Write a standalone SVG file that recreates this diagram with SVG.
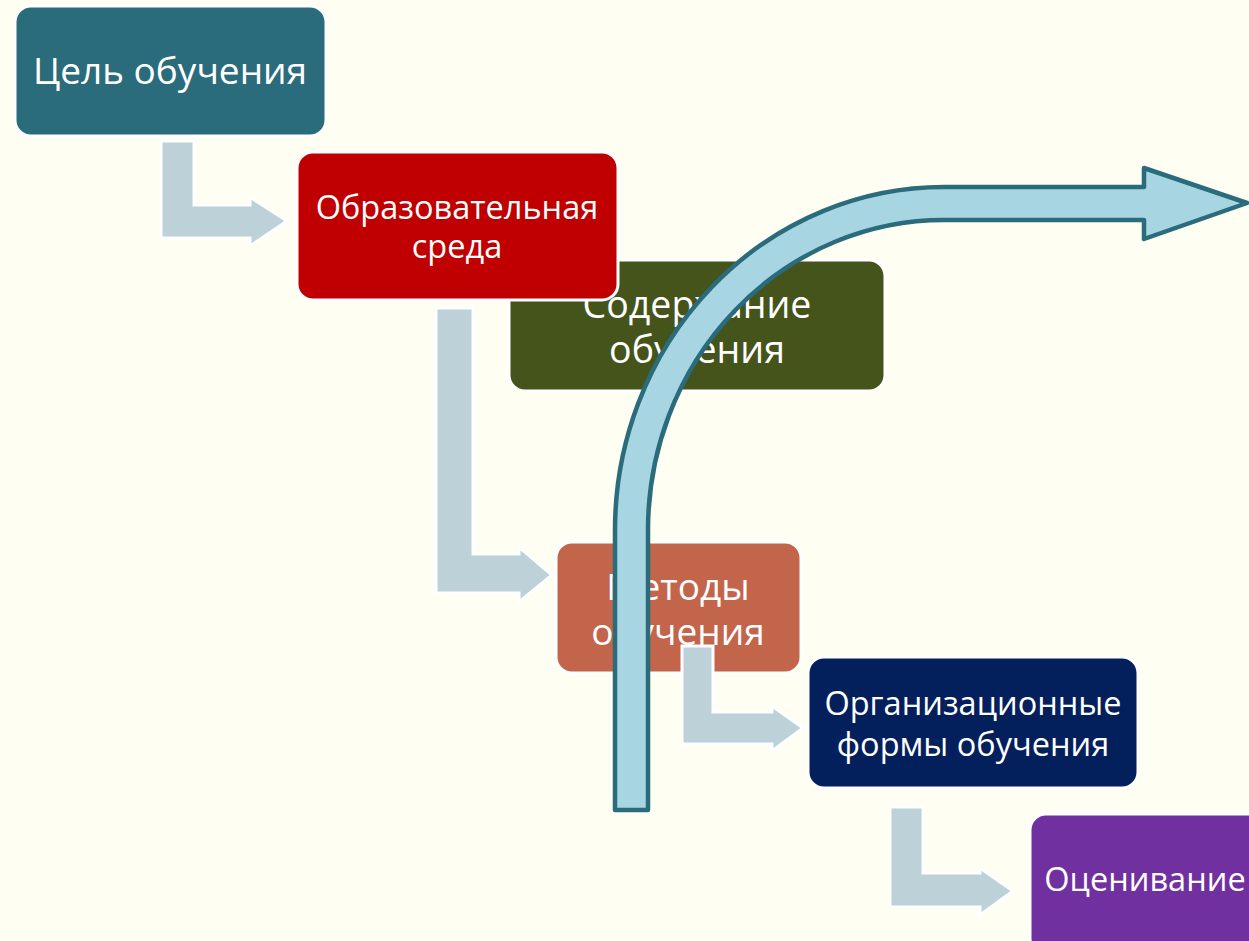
<svg xmlns="http://www.w3.org/2000/svg" width="1249" height="941" viewBox="0 0 1249 941">
<style>
.box{stroke:#ffffff;stroke-width:3}
.t{font-family:"Open Sans","Noto Sans",sans-serif;fill:#ffffff;text-anchor:middle}
.bent{fill:#BDD1D9;stroke:#ffffff;stroke-width:3;stroke-linejoin:miter}
.big{fill:#A8D5E2;stroke:#2A6B7C;stroke-width:4.5;stroke-linejoin:round}
</style>
<rect x="0" y="0" width="1249" height="941" fill="#FEFEF3"/>
<g id="node-cel">
<rect class="box" x="15" y="6" width="311" height="130" rx="16" fill="#2A6B7C"/>
<text class="t" x="170" y="84" font-size="37">Цель обучения</text>
</g>
<g id="connectors-bent">
<path class="bent" d="M161 141 L194 141 L194 205 L250 205 L250 197 L287 221 L250 246 L250 238 L161 238 Z"/>
</g>
<g id="node-soderzhanie">
<rect class="box" x="509" y="260" width="376" height="131" rx="16" fill="#44541A"/>
<text class="t" x="697" y="318" font-size="37.5">Содержание</text>
<text class="t" x="697" y="363" font-size="37.5">обучения</text>
</g>
<g id="node-sreda">
<rect class="box" x="297" y="152" width="321" height="148" rx="16" fill="#C00000"/>
<text class="t" x="457" y="219" font-size="32.5">Образовательная</text>
<text class="t" x="457" y="258" font-size="32.5">среда</text>
</g>
<g id="connectors-bent2">
<path class="bent" d="M436 308 L473 308 L473 554 L519 554 L519 547 L552 575 L519 602 L519 593 L436 593 Z"/>
</g>
<g id="node-metody">
<rect class="box" x="556" y="542" width="245" height="131" rx="16" fill="#C3654B"/>
<text class="t" x="678" y="600" font-size="37">Методы</text>
<text class="t" x="678" y="645" font-size="37">обучения</text>
</g>
<g id="node-formy">
<rect class="box" x="808" y="657" width="330" height="131" rx="16" fill="#03205C"/>
<text class="t" x="973" y="715" font-size="32.5">Организационные</text>
<text class="t" x="973" y="756" font-size="32.5">формы обучения</text>
</g>
<g id="node-ocenivanie">
<rect class="box" x="1030" y="814" width="240" height="140" rx="16" fill="#7030A0"/>
<text class="t" x="1145" y="891" font-size="32.5">Оценивание</text>
</g>
<g id="connectors">
<path class="bent" d="M682 646 L713 646 L713 712 L772 712 L772 706 L803 728 L772 751 L772 744 L682 744 Z"/>
<path class="bent" d="M890 807 L923 807 L923 873 L980 873 L980 868 L1013 891 L980 915 L980 907 L890 907 Z"/>
<path class="big" d="M615 810 L615 530 A329 343 0 0 1 944 187 L1144 187 L1144 168 L1247 203 L1144 239 L1144 220 L944 220 A296 310 0 0 0 648 530 L648 810 Z"/>
</g>
</svg>
